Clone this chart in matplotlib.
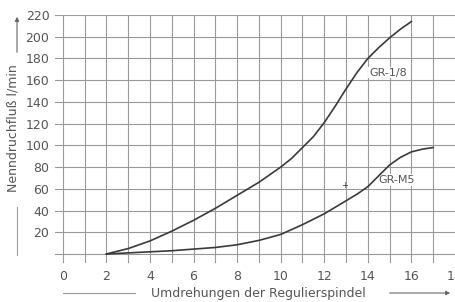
import matplotlib
matplotlib.use("Agg")
import matplotlib.pyplot as plt

# Data
gr18_x = [2, 3, 4, 5, 6, 7, 8, 9, 10, 10.5, 11, 11.5, 12, 12.5, 13, 13.5, 14, 14.5, 15, 15.5, 16]
gr18_y = [0, 5, 12, 21, 31, 42, 54, 66, 80, 88, 98, 108, 121, 136, 152, 167, 180, 190, 199, 207, 214]

grm5_x = [2, 3, 4, 5, 6, 7, 8, 9, 10, 11, 12, 12.5, 13, 13.5, 14, 14.5, 15, 15.5, 16, 16.5, 17]
grm5_y = [0, 1, 2, 3, 4.5, 6, 8.5, 12.5, 18, 27, 37, 43, 49, 55, 62, 72, 82, 89, 94, 96.5, 98]

x_ticks = [0, 2, 4, 6, 8, 10, 12, 14, 16, 18]
y_ticks = [20, 40, 60, 80, 100, 120, 140, 160, 180, 200, 220]

W, H = 455, 302
fig = plt.figure(figsize=(W / 100, H / 100), dpi=100)
ax = fig.add_axes([55 / W, 1 - 263 / H, 1 - 55 / W, (263 - 15) / H])
ax.set_xlim(-0.36, 17.73)
ax.set_ylim(-8.3, 220)
for s in ax.spines.values():
    s.set_visible(False)

gcol = "#9a9a9a"
for xv in range(0, 18):
    ax.axvline(xv, color=gcol, lw=0.8, zorder=1)
for yv in range(0, 221, 20):
    ax.axhline(yv, color=gcol, lw=0.8, zorder=1)

lcol = "#3a3a3a"
ax.plot(gr18_x, gr18_y, color=lcol, lw=1.2, zorder=3)
ax.plot(grm5_x, grm5_y, color=lcol, lw=1.2, zorder=3)

tcol = "#555555"
fs = 9
ax.text(14.05, 167, "GR-1/8", fontsize=8, color=tcol, va="center", ha="left",
        bbox=dict(facecolor="white", edgecolor="none", pad=0.5), zorder=2)
ax.text(14.5, 68, "GR-M5", fontsize=8, color=tcol, va="center", ha="left",
        bbox=dict(facecolor="white", edgecolor="none", pad=0.5), zorder=2)
ax.text(12.95, 63, "+", fontsize=6, color=lcol, va="center", ha="center", zorder=2)

ax.set_xticks(x_ticks)
ax.set_xticklabels([str(v) for v in x_ticks])
ax.set_yticks(y_ticks)
ax.set_yticklabels([str(v) for v in y_ticks])
ax.tick_params(axis="both", length=0, labelsize=fs, labelcolor=tcol)
ax.tick_params(axis="x", pad=5)
ax.tick_params(axis="y", pad=4)

# axis labels with lines/arrows
fig.text(13 / W, 1 - 128 / H, "Nenndruchfluß l/min", rotation=90, fontsize=fs,
         color=tcol, ha="center", va="center")
fig.add_artist(plt.Line2D([17 / W, 17 / W], [1 - 207 / H, 1 - 255 / H],
                          transform=fig.transFigure, color=gcol, lw=0.8))
fig.add_artist(matplotlib.patches.FancyArrowPatch(
    (17 / W, 1 - 55 / H), (17 / W, 1 - 14 / H), transform=fig.transFigure,
    arrowstyle="-|>", mutation_scale=6, color="#666666", lw=0.8))

fig.text(258 / W, 1 - 293 / H, "Umdrehungen der Regulierspindel", fontsize=fs,
         color=tcol, ha="center", va="center")
fig.add_artist(plt.Line2D([63 / W, 135 / W], [1 - 293 / H, 1 - 293 / H],
                          transform=fig.transFigure, color=gcol, lw=0.8))
fig.add_artist(matplotlib.patches.FancyArrowPatch(
    (387 / W, 1 - 293 / H), (453 / W, 1 - 293 / H), transform=fig.transFigure,
    arrowstyle="-|>", mutation_scale=6, color="#666666", lw=0.8))

fig.savefig("out.png", dpi=100)
